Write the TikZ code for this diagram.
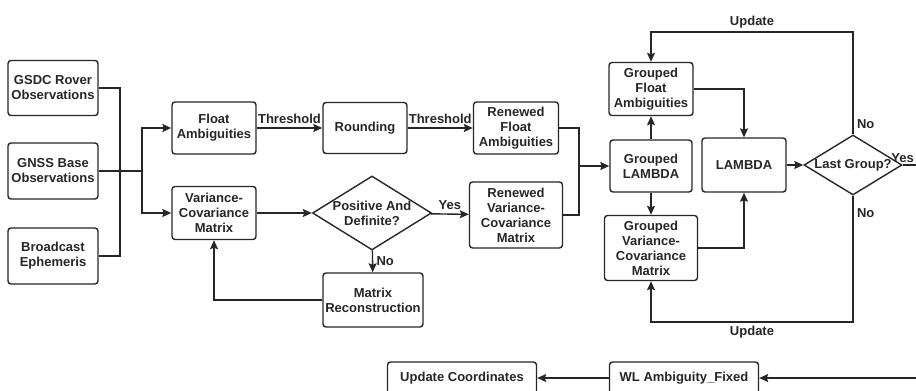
\documentclass[tikz,border=0pt]{standalone}
\usepackage{fontspec}
\setmainfont{Liberation Sans}
\usetikzlibrary{shapes.geometric,arrows.meta}

\begin{document}
\begin{tikzpicture}[x=1pt,y=-1pt,line width=1.4pt,color=black!85,
		font=\bfseries\fontsize{13}{15}\selectfont,
		box/.style={draw,rounded corners=3pt,align=center,inner sep=0pt},
		decision/.style={draw,diamond,aspect=1.6,inner sep=-2pt,align=center},
		flow/.style={-{Stealth[length=9pt,width=8pt,inset=1.5pt]}}]
		\useasboundingbox (0,0) rectangle (916,391);
		\clip (0,0) rectangle (916,391);
		% inputs
		\node[box,minimum width=90pt,minimum height=55pt] (rover) at (53,88) {GSDC Rover\\Observations};
		\node[box,minimum width=90pt,minimum height=56pt] (base) at (53,171) {GNSS Base\\Observations};
		\node[box,minimum width=90pt,minimum height=56pt] (ephem) at (53,256) {Broadcast\\Ephemeris};
		% float solution
		\node[box,minimum width=84pt,minimum height=52pt] (float) at (214,128) {Float\\Ambiguities};
		\node[box,minimum width=84pt,minimum height=53pt] (vcm) at (214,213) {Variance-\\Covariance\\Matrix};
		\node[box,minimum width=84pt,minimum height=51pt] (round) at (365,128) {Rounding};
		\node[decision,minimum width=119pt,minimum height=74pt] (pd) at (372,213) {Positive And\\Definite?};
		\node[box,minimum width=85pt,minimum height=52pt] (rfloat) at (516,128) {Renewed\\Float\\Ambiguities};
		\node[box,minimum width=93pt,minimum height=66pt] (rvcm) at (516,215) {Renewed\\Variance-\\Covariance\\Matrix};
		\node[box,minimum width=100pt,minimum height=54pt] (recon) at (373,300) {Matrix\\Reconstruction};
		% grouped search
		\node[box,minimum width=84pt,minimum height=53pt] (gfloat) at (651,89) {Grouped\\Float\\Ambiguities};
		\node[box,minimum width=82pt,minimum height=52pt] (glambda) at (651,166) {Grouped\\LAMBDA};
		\node[box,minimum width=93pt,minimum height=65pt] (gvcm) at (651,248) {Grouped\\Variance-\\Covariance\\Matrix};
		\node[box,minimum width=84pt,minimum height=54pt] (lambda) at (744,165) {LAMBDA};
		\node[decision,minimum width=98pt,minimum height=60pt] (last) at (853,165) {Last Group?};
		% output row
		\node[box,minimum width=149pt,minimum height=32pt] (wl) at (684,378) {WL Ambiguity\_Fixed};
		\node[box,minimum width=149pt,minimum height=32pt] (upd) at (462,378) {Update Coordinates};
		% junctions
		\coordinate (join) at (120,171);
		\coordinate (split) at (142,171);
		\coordinate (merge) at (579,166);
		\coordinate (uptop) at (853,32);
		\coordinate (upbot) at (853,322);
		\coordinate (yesend) at (916,165);
		\coordinate (wlin) at (916,378);
		% connectors
		\draw (rover.east) -| (join);
		\draw (ephem.east) -| (join);
		\draw (base.east) -- (split);
		\draw[flow] (split) |- (float.west);
		\draw[flow] (split) |- (vcm.west);
		\draw[flow] (float) -- node[above]{Threshold} (round);
		\draw[flow] (round) -- node[above]{Threshold} (rfloat);
		\draw[flow] (vcm) -- (pd);
		\draw[flow] (pd) -- node[above]{Yes} (rvcm);
		\draw[flow] (pd) -- node[right]{No} (recon);
		\draw[flow] (recon.west) -| (vcm.south);
		\draw (rfloat.east) -| (merge);
		\draw (rvcm.east) -| (merge);
		\draw[flow] (merge) -- (glambda.west);
		\draw[flow] (glambda) -- (gfloat);
		\draw[flow] (glambda) -- (gvcm);
		\draw[flow] (gfloat.east) -| (lambda.north);
		\draw[flow] (gvcm.east) -| (lambda.south);
		\draw[flow] (lambda) -- (last);
		\draw (last.east) -- (yesend) node[above left,inner sep=1.5pt]{Yes};
		\draw[flow] (last.north) -- node[right,pos=0.1]{No} (uptop) -| node[above,pos=0.25]{Update} (gfloat.north);
		\draw[flow] (last.south) -- node[right,pos=0.14]{No} (upbot) -| node[below,pos=0.25]{Update} (gvcm.south);
		\draw[flow] (wlin) -- (wl);
		\draw[flow] (wl) -- (upd);
	\end{tikzpicture}
\end{document}
